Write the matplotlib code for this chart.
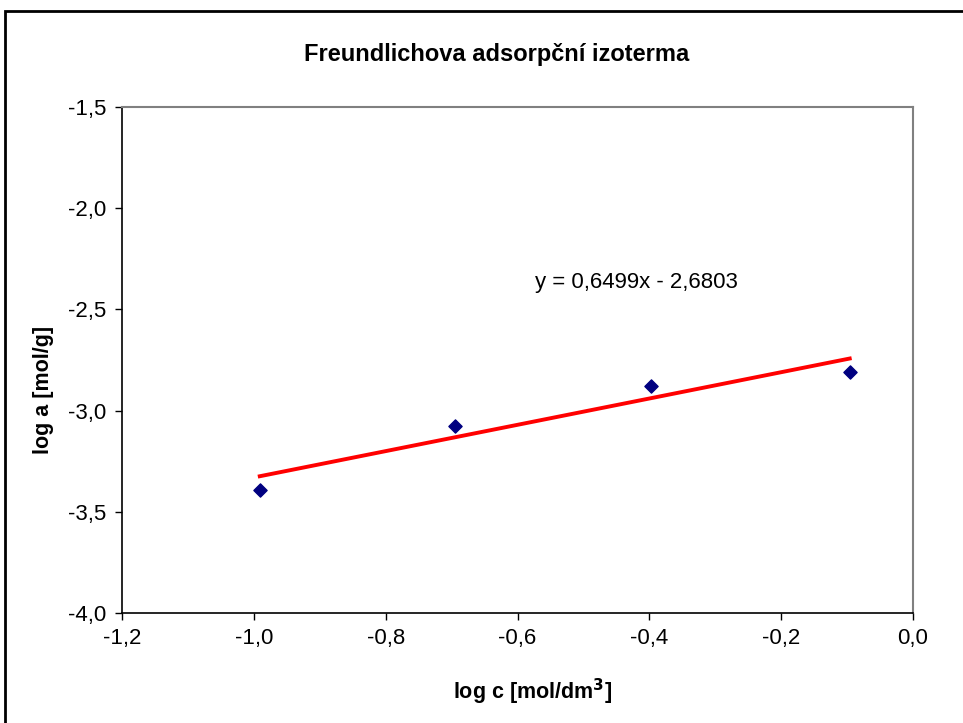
import matplotlib
matplotlib.use("Agg")
import matplotlib.pyplot as plt
import numpy as np
from matplotlib.patches import Rectangle
from matplotlib.ticker import FuncFormatter, MultipleLocator

plt.rcParams['font.family'] = ['Liberation Sans', 'DejaVu Sans']

log_c = [-0.991, -0.695, -0.398, -0.096]
log_a = [-3.392, -3.076, -2.878, -2.809]
slope = 0.6499
intercept = -2.6803
title = "Freundlichova adsorpční izoterma"
equation = "y = 0,6499x - 2,6803"

fig = plt.figure(figsize=(9.63, 7.23), dpi=100)
fig.patches.append(Rectangle((5/963, -0.1), 1.2, (723-11)/723 + 0.1, transform=fig.transFigure,
                             fill=False, edgecolor='black', linewidth=2))
ax = fig.add_axes([122/963, 1-613/723, (913-122)/963, (613-107)/723])

ax.scatter(log_c, log_a, marker='D', s=45, color='#000080', zorder=3)
xs = np.array([min(log_c), max(log_c)])
ax.plot(xs, slope*xs + intercept, color='#ff0000', linewidth=2.8, zorder=2)

ax.set_xlim(-1.2, 0.0)
ax.set_ylim(-4.0, -1.5)
ax.xaxis.set_major_locator(MultipleLocator(0.2))
ax.yaxis.set_major_locator(MultipleLocator(0.5))
fmt = FuncFormatter(lambda v, p: f"{v:.1f}".replace('.', ',').replace('-0,0', '0,0'))
ax.xaxis.set_major_formatter(fmt)
ax.yaxis.set_major_formatter(fmt)

for s in ['top', 'right']:
    ax.spines[s].set_color('#808080')
    ax.spines[s].set_linewidth(1.5)
for s in ['left', 'bottom']:
    ax.spines[s].set_color('#000000')
    ax.spines[s].set_linewidth(1.2)
ax.tick_params(direction='out', length=5, width=1, colors='black', labelsize=16, pad=6)

ax.text(-0.573, -2.365, equation, fontsize=16, ha='left', va='center')

fig.text(497/963, 1-55/723, title, fontsize=17, fontweight='bold', ha='center', va='center')
fig.text(533/963, 1-692/723, "log c [mol/dm$^\\mathbf{3}$]", fontsize=15.5, fontweight='bold', ha='center', va='center')
fig.text(43/963, 1-390/723, "log a [mol/g]", fontsize=15.5, fontweight='bold', ha='center', va='center', rotation=90)

fig.savefig("out.png", dpi=100)
